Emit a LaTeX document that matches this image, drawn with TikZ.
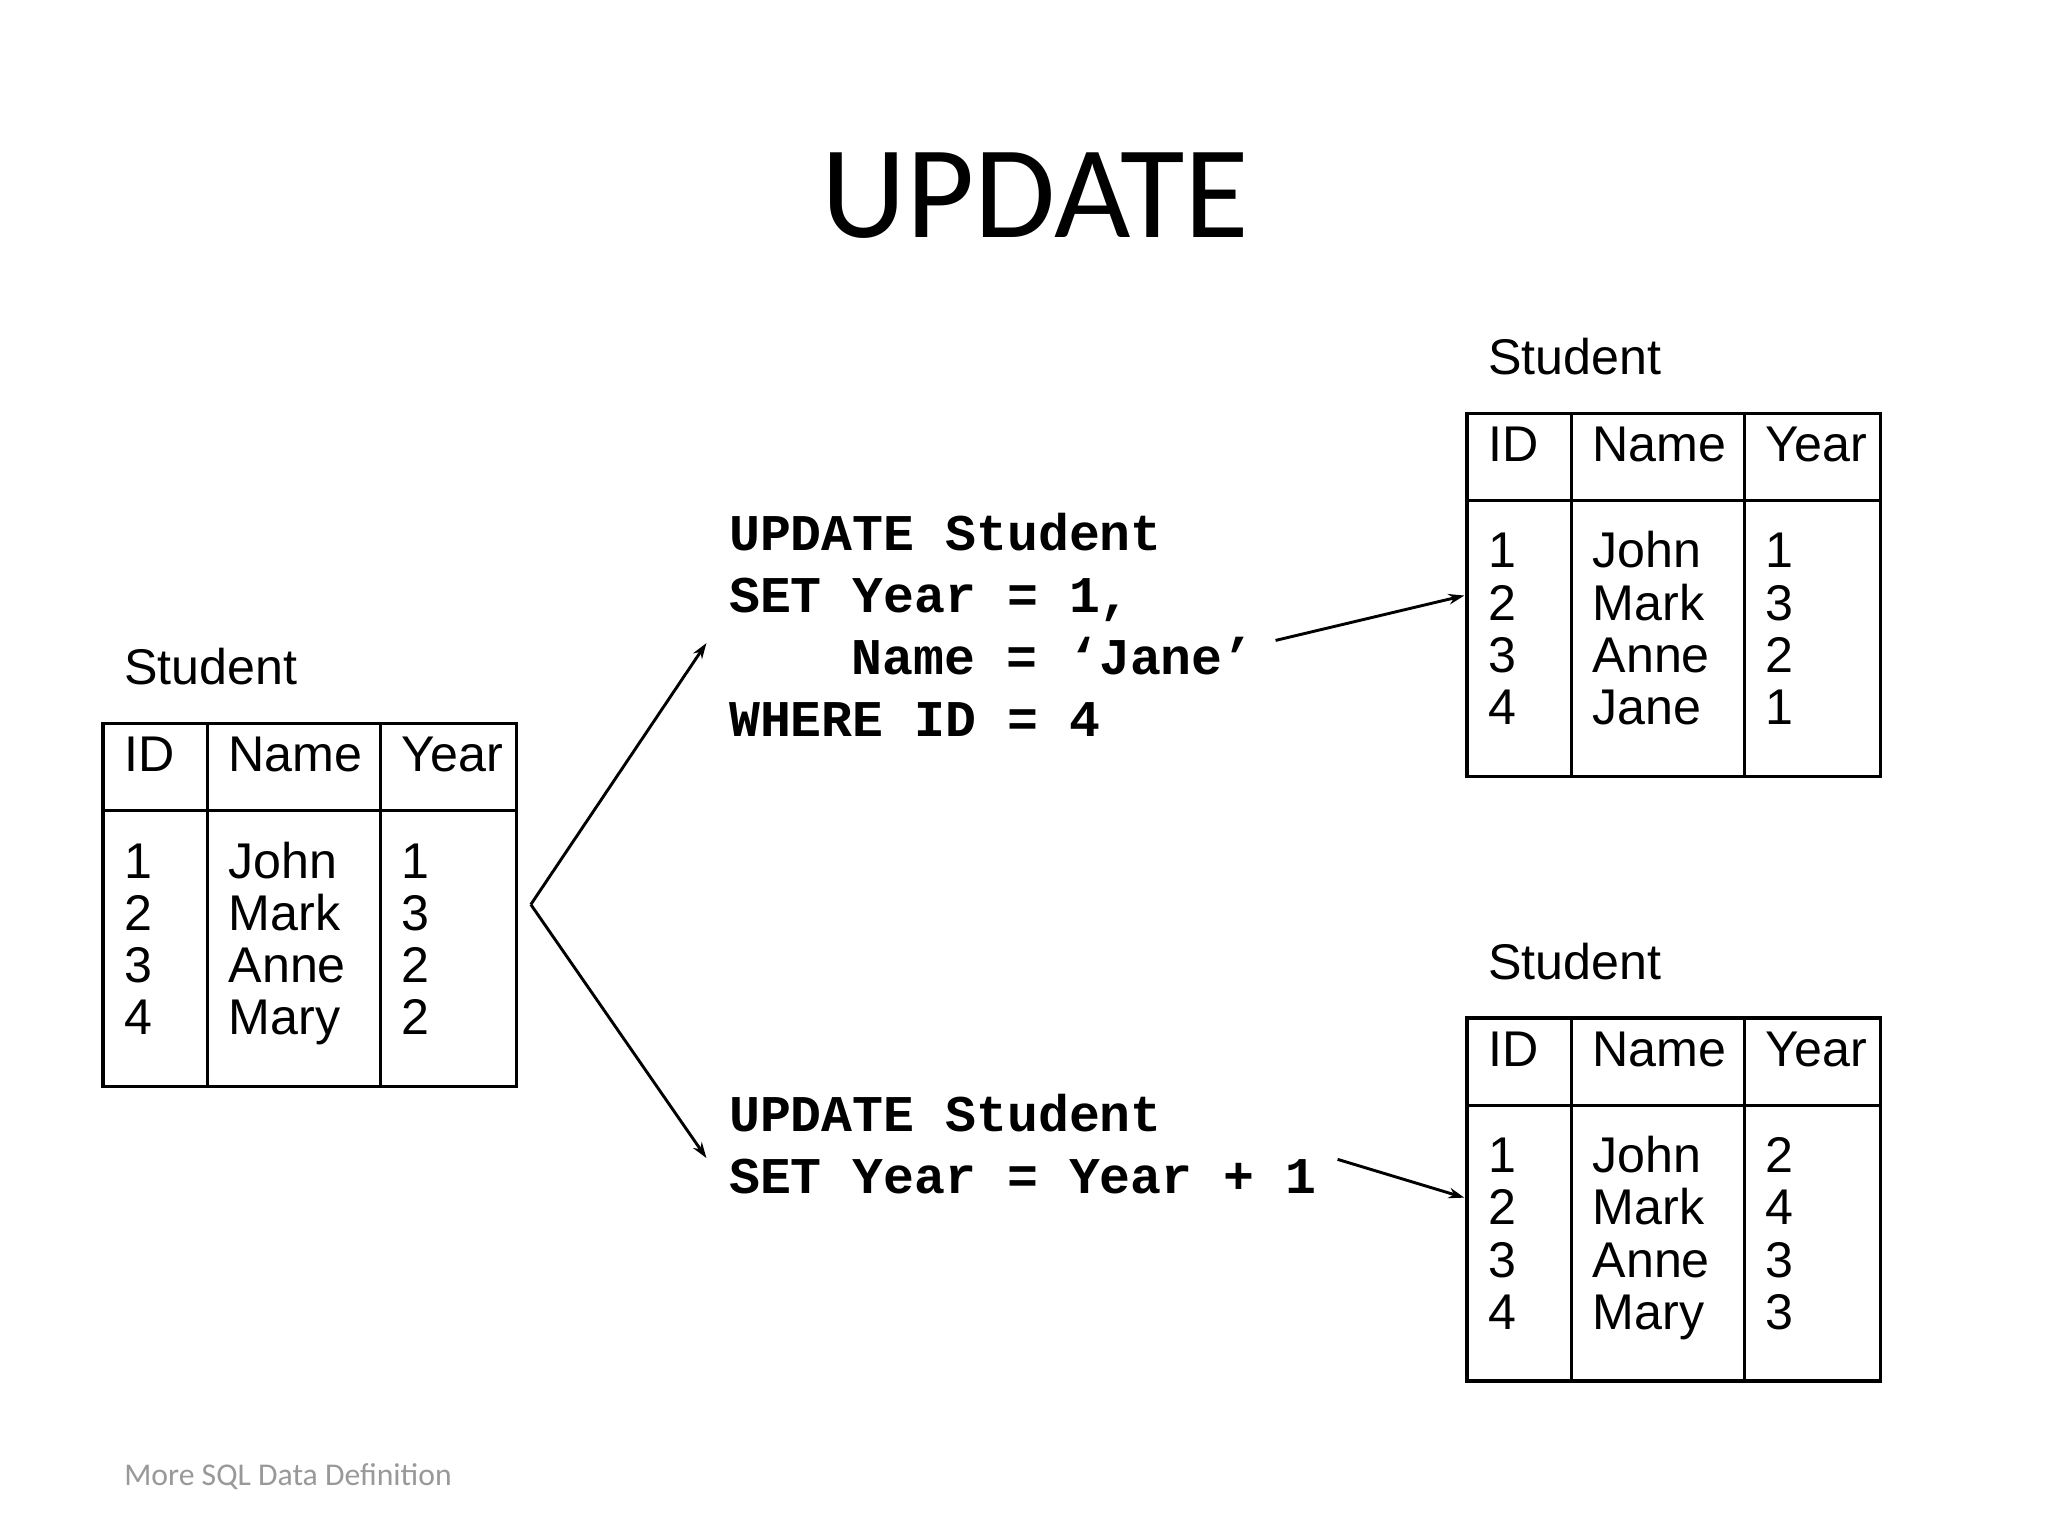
\documentclass[tikz,border=0pt]{standalone}
\usepackage{fontspec}
\usetikzlibrary{arrows.meta}
\setmainfont{Liberation Sans}
\newfontfamily\titlefont{Carlito}
\newfontfamily\codefont{Liberation Mono}
\begin{document}
\begin{tikzpicture}[x=1pt,y=-1pt,
  tb/.style={line width=2.6pt},
  cell/.style={anchor=mid west,inner sep=0pt,font=\fontsize{38}{40}\selectfont},
  code/.style={anchor=mid west,inner sep=0pt,font=\codefont\bfseries\fontsize{39}{40}\selectfont},
  arr/.style={line width=2.2pt,-{Stealth[length=12pt,width=8pt]}}]
\useasboundingbox (0,0) rectangle (1551,1163);
\fill[white] (0,0) rectangle (1551,1163);
\node[font=\titlefont\fontsize{100}{100}\selectfont,inner sep=0pt] (title) at (784,148) {UPDATE};
\newcommand\stable[8]{% x y ids names years label prefix
  \draw[tb] (#1,#2) rectangle ++(313,275);
  \draw[tb] (#1,#2+66) -- ++(313,0);
  \draw[tb] (#1+79,#2) -- ++(0,275);
  \draw[tb] (#1+210,#2) -- ++(0,275);
  \node[cell] (#7lab) at (#1+16,#2-32) {Student};
  \node[cell] (#7h1) at (#1+16,#2+34) {ID};
  \node[cell] (#7h2) at (#1+95,#2+34) {Name};
  \node[cell] (#7h3) at (#1+226,#2+34) {Year};
  \node[cell,align=left] (#7c1) at (#1+16,#2+172) {\begin{tabular}{@{}l@{}}#3\end{tabular}};
  \node[cell,align=left] (#7c2) at (#1+95,#2+172) {\begin{tabular}{@{}l@{}}#4\end{tabular}};
  \node[cell,align=left] (#7c3) at (#1+226,#2+172) {\begin{tabular}{@{}l@{}}#5\end{tabular}};
}
\renewcommand\arraystretch{0.99}
\stable{78}{548}{1\\2\\3\\4}{John\\Mark\\Anne\\Mary}{1\\3\\2\\2}{}{L}{}
\stable{1111}{313}{1\\2\\3\\4}{John\\Mark\\Anne\\Jane}{1\\3\\2\\1}{}{T}{}
\stable{1111}{771}{1\\2\\3\\4}{John\\Mark\\Anne\\Mary}{2\\4\\3\\3}{}{B}{}
\node[code] (q1a) at (552,414) {UPDATE Student};
\node[code] (q1b) at (552,461) {SET Year = 1,};
\node[code] (q1c) at (645,508) {Name = ‘Jane’};
\node[code] (q1d) at (552,555) {WHERE ID = 4};
\node[code] (q2a) at (552,854) {UPDATE Student};
\node[code] (q2b) at (552,901) {SET Year = Year + 1};
\coordinate (fork) at (402,685);
\coordinate (e1) at (535,487);
\coordinate (e2) at (535,877);
\coordinate (s1) at (966,485);
\coordinate (t1) at (1109,451);
\coordinate (s2) at (1013,878);
\coordinate (t2) at (1109,907);
\draw[arr] (fork) -- (e1);
\draw[arr] (fork) -- (e2);
\draw[arr] (s1) -- (t1);
\draw[arr] (s2) -- (t2);
\node[anchor=mid west,inner sep=0pt,text=gray!80,font=\titlefont\fontsize{24}{24}\selectfont] (foot) at (94,1122) {More SQL Data Definition};
\end{tikzpicture}
\end{document}
